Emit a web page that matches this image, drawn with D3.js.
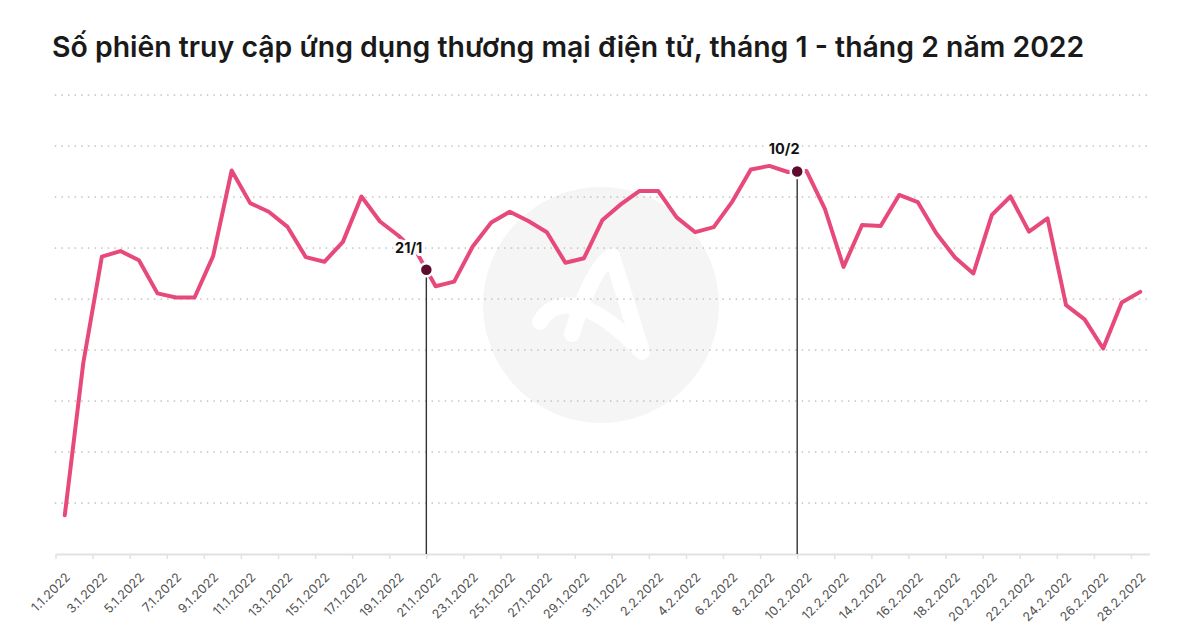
<!DOCTYPE html>
<html>
<head>
<meta charset="utf-8">
<script src="https://cdn.jsdelivr.net/npm/d3@7/dist/d3.min.js"></script>
<style>
  html, body { margin: 0; padding: 0; background: #fff; }
  svg { display: block; }
</style>
</head>
<body>
<svg id="chart" width="1200" height="644"></svg>
<script>
// ---------------- DATA ----------------
const title = "Số phiên truy cập ứng dụng thương mại điện tử, tháng 1 - tháng 2 năm 2022";

const days = [
  "2022-01-01","2022-01-02","2022-01-03","2022-01-04","2022-01-05","2022-01-06","2022-01-07","2022-01-08",
  "2022-01-09","2022-01-10","2022-01-11","2022-01-12","2022-01-13","2022-01-14","2022-01-15","2022-01-16",
  "2022-01-17","2022-01-18","2022-01-19","2022-01-20","2022-01-21","2022-01-22","2022-01-23","2022-01-24",
  "2022-01-25","2022-01-26","2022-01-27","2022-01-28","2022-01-29","2022-01-30","2022-01-31","2022-02-01",
  "2022-02-02","2022-02-03","2022-02-04","2022-02-05","2022-02-06","2022-02-07","2022-02-08","2022-02-09",
  "2022-02-10","2022-02-11","2022-02-12","2022-02-13","2022-02-14","2022-02-15","2022-02-16","2022-02-17",
  "2022-02-18","2022-02-19","2022-02-20","2022-02-21","2022-02-22","2022-02-23","2022-02-24","2022-02-25",
  "2022-02-26","2022-02-27","2022-02-28"
];

// relative session index (no y labels in source; gridlines every 10 units)
const sessions = [
  7.6, 37.5, 58.3, 59.4, 57.6, 51.1, 50.3, 50.3, 58.4, 75.2,
  68.8, 67.1, 64.2, 58.2, 57.3, 61.2, 70.1, 65.2, 62.4, 59.0,
  52.5, 53.4, 60.3, 65.0, 67.1, 65.3, 63.1, 57.1, 58.0, 65.5,
  68.6, 71.2, 71.2, 66.0, 63.1, 64.1, 69.1, 75.4, 76.1, 74.9,
  75.1, 67.6, 56.3, 64.5, 64.3, 70.4, 69.0, 62.9, 58.2, 55.0,
  66.5, 70.1, 63.2, 65.8, 48.8, 46.0, 40.3, 49.3, 51.4
];

const tickLabels = [
  "1.1.2022","3.1.2022","5.1.2022","7.1.2022","9.1.2022","11.1.2022","13.1.2022","15.1.2022",
  "17.1.2022","19.1.2022","21.1.2022","23.1.2022","25.1.2022","27.1.2022","29.1.2022","31.1.2022",
  "2.2.2022","4.2.2022","6.2.2022","8.2.2022","10.2.2022","12.2.2022","14.2.2022","16.2.2022",
  "18.2.2022","20.2.2022","22.2.2022","24.2.2022","26.2.2022","28.2.2022"
];

const gridValues = [10, 20, 30, 40, 50, 60, 70, 80, 90];

const annotationDates = ["2022-01-21", "2022-02-10"];
const annotationLabels = ["21/1", "10/2"];

// ---------------- CHART ----------------
const svg = d3.select("#chart");
const FONT = "Inter, 'Noto Sans', sans-serif";
const parse = d3.utcParse("%Y-%m-%d");
const parseLabel = d3.utcParse("%d.%m.%Y");

const data = days.map((d, i) => ({ date: parse(d), value: sessions[i] }));

const x = d3.scaleUtc()
  .domain([parse("2022-01-01"), parse("2022-03-01")])
  .range([55.5, 1149.5]);
const y = d3.scaleLinear().domain([0, 90]).range([554, 95]);

// watermark
const wm = svg.append("g").attr("class", "watermark");
wm.append("circle").attr("cx", 601).attr("cy", 305).attr("r", 118).attr("fill", "#f5f5f5");
wm.append("path")
  .attr("d", "M540,322 C552,300 585,292 640,350 M572,334 C584,292 600,262 612,256 L642,352")
  .attr("fill", "none").attr("stroke", "#ffffff").attr("stroke-width", 16)
  .attr("stroke-linecap", "round").attr("stroke-linejoin", "round");

// gridlines
svg.append("g").selectAll("line").data(gridValues).join("line")
  .attr("x1", x.range()[0]).attr("x2", x.range()[1])
  .attr("y1", d => y(d)).attr("y2", d => y(d))
  .attr("stroke", "#bdbdbd").attr("stroke-width", 1.7)
  .attr("stroke-dasharray", "0.01 6.6").attr("stroke-linecap", "round");

// x axis
const tickDates = tickLabels.map(t => parseLabel(t));
const xAxis = d3.axisBottom(x)
  .tickValues(tickDates)
  .tickSize(5)
  .tickSizeOuter(0)
  .tickFormat((d, i) => tickLabels[i]);
const gx = svg.append("g").attr("transform", `translate(0,${y(0)})`).call(xAxis);
gx.select(".domain").attr("stroke", "#e2e2e2").attr("stroke-width", 2);
gx.selectAll(".tick line").attr("stroke", "#e2e2e2").attr("stroke-width", 1.5);
gx.selectAll(".tick text")
  .attr("font-family", FONT).attr("font-size", 12.5).attr("fill", "#505050")
  .attr("letter-spacing", 0.2)
  .attr("text-anchor", "end")
  .attr("dy", 0).attr("y", 0)
  .attr("transform", "translate(15,24) rotate(-45)");

// line (daily values plotted at mid-day)
const line = d3.line()
  .x(d => x(d3.utcHour.offset(d.date, 12)))
  .y(d => y(d.value));
svg.append("path").datum(data)
  .attr("d", line)
  .attr("fill", "none").attr("stroke", "#e8497b").attr("stroke-width", 4)
  .attr("stroke-linejoin", "round").attr("stroke-linecap", "round");

// annotations
function valueAt(date) {
  const pts = data.map(d => ({ t: +d3.utcHour.offset(d.date, 12), v: d.value }));
  const t = +date;
  for (let i = 0; i < pts.length - 1; i++) {
    if (t >= pts[i].t && t <= pts[i + 1].t) {
      const f = (t - pts[i].t) / (pts[i + 1].t - pts[i].t);
      return pts[i].v + f * (pts[i + 1].v - pts[i].v);
    }
  }
  return pts[0].v;
}
const annots = annotationDates.map((d, i) => {
  const date = parse(d);
  return { date, value: valueAt(date), label: annotationLabels[i] };
});
const labelOffsets = [{ dx: -4, dy: -17, anchor: "end" }, { dx: -13, dy: -18, anchor: "middle" }];

const ga = svg.append("g");
ga.selectAll("line").data(annots).join("line")
  .attr("x1", d => x(d.date)).attr("x2", d => x(d.date))
  .attr("y1", d => y(d.value)).attr("y2", y(0))
  .attr("stroke", "#333").attr("stroke-width", 1.4);
ga.selectAll("text").data(annots).join("text")
  .attr("x", (d, i) => x(d.date) + labelOffsets[i].dx)
  .attr("y", (d, i) => y(d.value) + labelOffsets[i].dy)
  .attr("text-anchor", (d, i) => labelOffsets[i].anchor)
  .attr("font-family", FONT).attr("font-weight", 700).attr("font-size", 14.5)
  .attr("fill", "#111")
  .attr("stroke", "#fff").attr("stroke-width", 6).attr("paint-order", "stroke")
  .attr("stroke-linejoin", "round")
  .text(d => d.label);
ga.selectAll("circle").data(annots).join("circle")
  .attr("cx", d => x(d.date)).attr("cy", d => y(d.value))
  .attr("r", 6.5).attr("fill", "#5e0b2e")
  .attr("stroke", "#fff").attr("stroke-width", 2.5);

// title
const tt = svg.append("text")
  .attr("x", 52).attr("y", 57)
  .attr("font-family", FONT).attr("font-weight", 600).attr("font-size", 26)
  .attr("fill", "#1a1a1a")
  .text(title);
const w = tt.node().getComputedTextLength();
tt.attr("font-size", 26 * 1033 / w);
</script>
</body>
</html>
